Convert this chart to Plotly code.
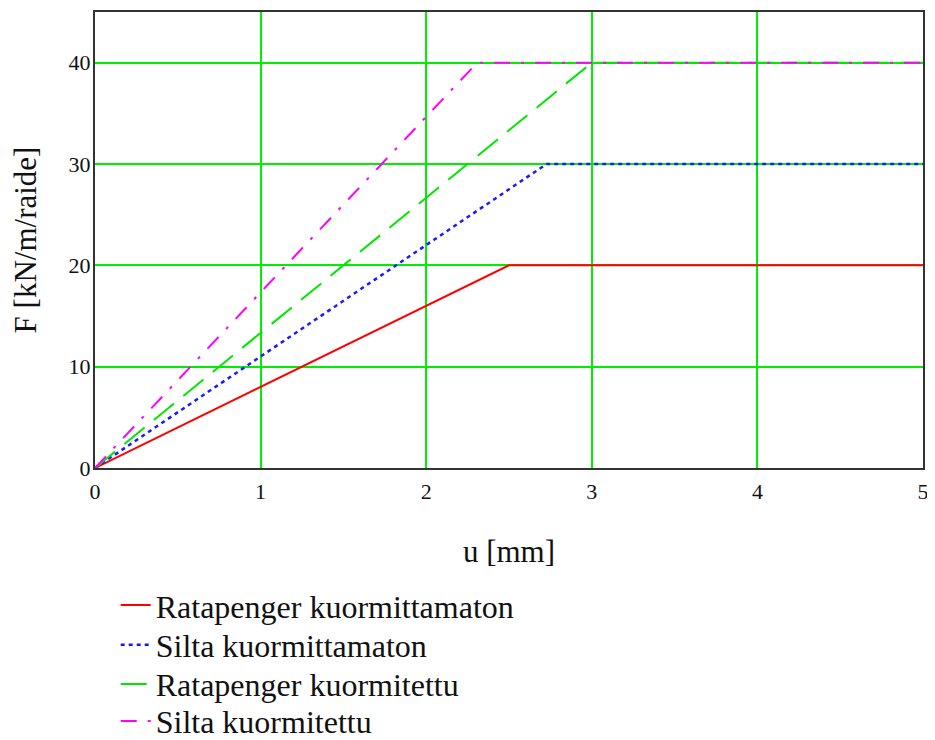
import plotly.graph_objects as go

# Data (u in mm, F in kN/m/raide)
u_rata_kuormittamaton = [0, 2.5, 5]
F_rata_kuormittamaton = [0, 20, 20]
u_silta_kuormittamaton = [0, 2.727, 5]
F_silta_kuormittamaton = [0, 30, 30]
u_rata_kuormitettu = [0, 3.0, 5]
F_rata_kuormitettu = [0, 40, 40]
u_silta_kuormitettu = [0, 2.308, 5]
F_silta_kuormitettu = [0, 40, 40]

names = ["Ratapenger kuormittamaton", "Silta kuormittamaton",
         "Ratapenger kuormitettu", "Silta kuormitettu"]

x_ticks = [0, 1, 2, 3, 4, 5]
y_ticks = [0, 10, 20, 30, 40]

FONT = "Liberation Serif, Times New Roman, serif"
LEG_FONT = dict(family=FONT, size=32, color="#111111")

fig = go.Figure()
fig.add_trace(go.Scatter(x=u_rata_kuormittamaton, y=F_rata_kuormittamaton, mode="lines",
                         name=names[0], legend="legend",
                         line=dict(color="#ff0000", width=2)))
fig.add_trace(go.Scatter(x=u_silta_kuormittamaton, y=F_silta_kuormittamaton, mode="lines",
                         name=names[1], legend="legend2",
                         line=dict(color="#1a1aff", width=2.5, dash="4px,4px")))
fig.add_trace(go.Scatter(x=u_rata_kuormitettu, y=F_rata_kuormitettu, mode="lines",
                         name=names[2], legend="legend3",
                         line=dict(color="#00e600", width=2, dash="26px,12px")))
fig.add_trace(go.Scatter(x=u_silta_kuormitettu, y=F_silta_kuormitettu, mode="lines",
                         name=names[3], legend="legend4",
                         line=dict(color="#ff00ff", width=2, dash="16px,11px,3px,11px")))

leg_x = 0.025
def leg(y):
    return dict(x=leg_x, y=y, xanchor="left", yanchor="middle", font=LEG_FONT,
                bgcolor="rgba(0,0,0,0)")

fig.update_layout(
    width=935, height=748,
    margin=dict(l=87, r=20, t=2, b=288),
    paper_bgcolor="white", plot_bgcolor="white",
    font=dict(family=FONT, color="#111111", size=22),
    showlegend=True,
    legend=leg(-0.301),
    legend2=leg(-0.388),
    legend3=leg(-0.474),
    legend4=leg(-0.555),
    xaxis=dict(range=[0, 5], tickvals=x_ticks, showgrid=True, gridcolor="#00ee00", gridwidth=2,
               zeroline=False, showline=True, linecolor="#333333", linewidth=2, mirror=True,
               ticks="", ticklabelstandoff=3, tickfont=dict(size=22, family=FONT),
               title=dict(text="u [mm]", font=dict(size=31, family=FONT), standoff=37)),
    yaxis=dict(range=[0, 45], tickvals=y_ticks, showgrid=True, gridcolor="#00ee00", gridwidth=2,
               zeroline=False, showline=True, linecolor="#333333", linewidth=2, mirror=True,
               ticks="", ticklabelstandoff=-2, tickfont=dict(size=22, family=FONT),
               title=dict(text="F [kN/m/raide]", font=dict(size=31, family=FONT), standoff=23)),
)

fig.write_html("out.html")
